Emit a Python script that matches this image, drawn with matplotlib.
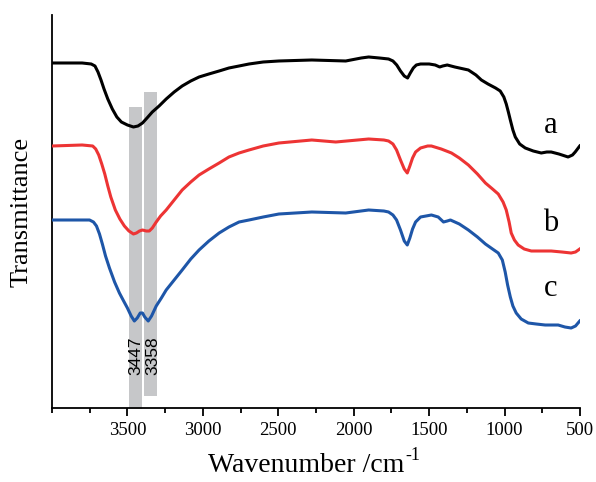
import matplotlib
matplotlib.use("Agg")
import matplotlib.pyplot as plt
from matplotlib.ticker import MultipleLocator

# ---- data (wavenumber cm^-1, transmittance in arbitrary offset units) ----
wn_a = [4000, 3800, 3740, 3715, 3695, 3675, 3655, 3630, 3600, 3570, 3540, 3500,
        3460, 3430, 3400, 3370, 3335, 3290, 3243, 3190, 3137, 3080, 3025, 2960,
        2892, 2827, 2760, 2694, 2600, 2496, 2278, 2053, 1950, 1901, 1830, 1769,
        1740, 1715, 1690, 1665, 1643, 1625, 1605, 1585, 1557, 1500, 1460, 1430,
        1410, 1380, 1330, 1240, 1190, 1154, 1110, 1060, 1029, 1005, 989, 975,
        962, 945, 929, 900, 863, 810, 757, 720, 691, 640, 579, 550, 532, 502]
tr_a = [347, 347, 346, 344, 338, 330, 321, 311, 301, 293, 288, 285,
        283, 284, 287, 292, 298, 304, 311, 318, 324, 329, 333, 336,
        339, 342, 344, 346, 348, 349, 350, 349, 352, 353, 352, 351,
        349, 345, 339, 334, 332, 337, 342, 345, 346, 346, 345, 343,
        344, 345, 343, 340, 335, 330, 326, 322, 319, 313, 306, 298,
        290, 280, 273, 266, 262, 259, 257, 258, 258, 256, 253, 255, 258, 264]

wn_b = [4000, 3800, 3730, 3710, 3690, 3670, 3650, 3630, 3610, 3580, 3550, 3520,
        3490, 3460, 3440, 3420, 3400, 3375, 3355, 3335, 3309, 3280, 3243, 3190,
        3137, 3080, 3025, 2960, 2892, 2827, 2760, 2694, 2600, 2496, 2278, 2119,
        1901, 1800, 1769, 1740, 1716, 1690, 1665, 1645, 1628, 1610, 1590, 1557,
        1510, 1485, 1420, 1352, 1300, 1240, 1180, 1127, 1080, 1042, 1010, 989,
        970, 956, 935, 910, 870, 823, 750, 691, 620, 559, 530, 502]
tr_b = [264, 265, 264, 261, 255, 246, 236, 224, 213, 200, 191, 184,
        179, 176, 177, 179, 180, 179, 179, 182, 188, 194, 200, 210,
        220, 228, 235, 241, 247, 253, 257, 260, 264, 267, 270, 268,
        271, 270, 269, 266, 260, 250, 241, 237, 244, 252, 258, 262,
        264, 264, 261, 257, 252, 245, 236, 227, 221, 216, 208, 200,
        188, 177, 170, 165, 161, 159, 159, 159, 158, 157, 158, 161]

wn_c = [4000, 3800, 3751, 3725, 3705, 3685, 3666, 3645, 3619, 3585, 3553, 3525,
        3500, 3475, 3454, 3435, 3415, 3400, 3385, 3362, 3340, 3309, 3275, 3243,
        3190, 3137, 3080, 3025, 2960, 2892, 2827, 2760, 2694, 2600, 2496, 2278,
        2053, 1901, 1800, 1769, 1740, 1716, 1690, 1665, 1645, 1628, 1610, 1590,
        1557, 1485, 1440, 1405, 1380, 1359, 1300, 1240, 1180, 1127, 1080, 1042,
        1015, 996, 980, 962, 945, 923, 890, 843, 790, 731, 645, 600, 559, 530, 502]
tr_c = [190, 190, 190, 188, 184, 176, 166, 154, 142, 128, 117, 109,
        102, 94, 89, 92, 97, 97, 93, 89, 94, 104, 112, 120,
        130, 140, 151, 160, 169, 177, 183, 188, 190, 193, 196, 198,
        197, 200, 199, 198, 195, 190, 180, 169, 165, 172, 181, 188,
        193, 195, 193, 188, 189, 190, 186, 180, 173, 166, 161, 157,
        150, 138, 125, 113, 104, 97, 91, 87, 86, 85, 85, 83, 82, 84, 89]

series_labels = ["a", "b", "c"]
band_labels = ["3447", "3358"]
x_ticks = [3500, 3000, 2500, 2000, 1500, 1000, 500]

# ---- figure ----
fig = plt.figure(figsize=(5.96, 4.82), dpi=100)
ax = fig.add_axes([0.0872, 0.1535, 0.886, 0.8154])

serif = ["Liberation Serif", "DejaVu Serif"]

# grey highlight bands
ax.fill_between([3490, 3401], [0, 0], [303, 303], color="#c6c7c9", lw=0, zorder=1)
ax.fill_between([3388, 3301], [14, 14], [318, 318], color="#c6c7c9", lw=0, zorder=1)

ax.plot(wn_a, tr_a, color="black", lw=2.2, zorder=3, solid_joinstyle="round")
ax.plot(wn_b, tr_b, color="#ED3434", lw=2.2, zorder=3, solid_joinstyle="round")
ax.plot(wn_c, tr_c, color="#1E56A8", lw=2.2, zorder=3, solid_joinstyle="round")

# curve letters
for lab, yb in zip(series_labels, [277, 179, 114]):
    ax.text(693, yb, lab, fontsize=22, family=serif, ha="center", va="baseline")

# band labels
for lab, xx in zip(band_labels, [3447, 3330]):
    ax.text(xx, 54, lab, rotation=90, fontsize=12.5, family=["Liberation Sans"],
            ha="center", va="center", zorder=4)

ax.set_xlim(4000, 500)
ax.set_ylim(2, 395)
ax.set_xticks(x_ticks)
ax.xaxis.set_minor_locator(MultipleLocator(250))
ax.set_yticks([])
for s in ["top", "right"]:
    ax.spines[s].set_visible(False)
for s in ["left", "bottom"]:
    ax.spines[s].set_linewidth(1.3)
ax.tick_params(axis="x", which="major", direction="out", length=6, width=1.3, pad=4)
ax.tick_params(axis="x", which="minor", direction="out", length=3.5, width=1.3)
for t in ax.get_xticklabels():
    t.set_fontfamily(serif)
    t.set_fontsize(13.5)

ax.set_ylabel("Transmittance", fontsize=19, family=serif, labelpad=14)

# x label with a hyphen superscript, as in the original
W, H = 596.0, 482.0
xl = fig.text(306 / W, 1 - 472 / H, "Wavenumber /cm", fontsize=20, family=serif,
              ha="center", va="baseline")
fig.canvas.draw()
bb = xl.get_window_extent(renderer=fig.canvas.get_renderer())
fig.text((bb.x1 + 1) / W, 1 - 460 / H, "-1",
         fontsize=13, family=serif, ha="left", va="baseline")

fig.savefig("out.png", dpi=100)
